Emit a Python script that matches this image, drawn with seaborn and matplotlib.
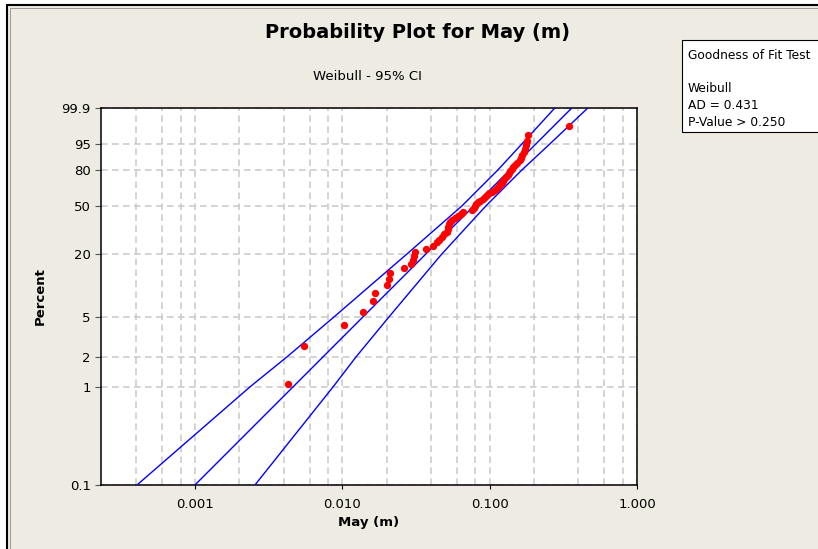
import numpy as np
import pandas as pd
import matplotlib
matplotlib.use("Agg")
import matplotlib.pyplot as plt
from matplotlib.patches import Rectangle
from matplotlib.ticker import FixedLocator, FixedFormatter, NullFormatter
import seaborn as sns

# ---- data -------------------------------------------------------------
# observed May values (m), sorted
may_values = [0.0043, 0.0055, 0.0102, 0.0139, 0.0162, 0.0166, 0.0202, 0.0208,
              0.0211, 0.0263, 0.0291, 0.0300, 0.0306, 0.0310, 0.0370, 0.0413,
              0.0436, 0.0454, 0.0472, 0.0490, 0.0512, 0.0518, 0.0525, 0.0532,
              0.0539, 0.0556, 0.0582, 0.0605, 0.0634, 0.0660, 0.0759, 0.0777,
              0.0790, 0.0808, 0.0830, 0.0861, 0.0898, 0.0923, 0.0954, 0.0991,
              0.1035, 0.1080, 0.1123, 0.1153, 0.1182, 0.1205, 0.1227, 0.1258,
              0.1296, 0.1325, 0.1352, 0.1380, 0.1408, 0.1439, 0.1485, 0.1537,
              0.1596, 0.1634, 0.1670, 0.1702, 0.1734, 0.1767, 0.1806, 0.1831,
              0.348]
# plotting positions (percent) of the sorted values
may_percent = [1.07, 2.60, 4.13, 5.66, 7.19, 8.72, 10.24, 11.77, 13.30, 14.83,
               16.36, 17.89, 19.42, 20.95, 22.48, 24.01, 25.54, 27.06, 28.59,
               30.12, 31.65, 33.18, 34.71, 36.24, 37.77, 39.30, 40.83, 42.35,
               43.88, 45.41, 46.94, 48.47, 50.00, 51.53, 53.06, 54.59, 56.12,
               57.65, 59.17, 60.70, 62.23, 63.76, 65.29, 66.82, 68.35, 69.88,
               71.41, 72.94, 74.46, 75.99, 77.52, 79.05, 80.58, 82.11, 83.64,
               85.17, 86.70, 88.23, 89.76, 91.28, 92.81, 94.34, 95.87, 97.40,
               98.93]

# fitted Weibull line (percent -> May value)
fit_percent = [0.1, 99.9]
fit_values = [0.000999, 0.361]

# 95% confidence bounds
ci_percent = [0.1, 1, 2, 5, 20, 50, 80, 95, 99.9]
ci_left = [0.000404, 0.002373, 0.004215, 0.008754, 0.02725, 0.06468, 0.1134,
           0.1662, 0.2768]
ci_right = [0.002552, 0.008683, 0.01240, 0.02068, 0.04708, 0.09412, 0.1650,
            0.2575, 0.4635]

y_ticks = [0.1, 1, 2, 5, 20, 50, 80, 95, 99.9]
y_tick_labels = ["0.1", "1", "2", "5", "20", "50", "80", "95", "99.9"]
x_ticks = [0.001, 0.01, 0.1, 1.0]
x_tick_labels = ["0.001", "0.010", "0.100", "1.000"]

gof_lines = ["Goodness of Fit Test", "", "Weibull", "AD = 0.431", "P-Value > 0.250"]

# ---- style ------------------------------------------------------------
sns.set_theme(style="white")
plt.rcParams["font.family"] = ["DejaVu Sans"]
plt.rcParams["text.color"] = "black"
plt.rcParams["axes.labelcolor"] = "black"
plt.rcParams["xtick.color"] = "black"
plt.rcParams["ytick.color"] = "black"
BG = "#eeebe2"
W, H = 818, 549

fig = plt.figure(figsize=(W / 100, H / 100), dpi=100)
fig.patch.set_facecolor("white")


def fx(px):
    return px / W


def fy(py):
    return 1 - py / H


# window frame
fig.patches.append(Rectangle((fx(7), fy(560)), fx(900), (560 - 5) / H,
                             transform=fig.transFigure, facecolor=BG,
                             edgecolor="black", linewidth=1.5, zorder=-10))
fig.patches.append(Rectangle((fx(9.5), fy(560)), fx(900), (560 - 7.5) / H,
                             transform=fig.transFigure, facecolor="none",
                             edgecolor="#9a9a9a", linewidth=0.7, zorder=-9))

ax = fig.add_axes([fx(101), fy(485), fx(637) - fx(101), (485 - 108) / H])
ax.set_zorder(1)
ax.set_facecolor("white")

pts = pd.DataFrame({"May": may_values, "Percent": may_percent})
fit = pd.DataFrame({"May": fit_values, "Percent": fit_percent})
ci = pd.DataFrame({"left": ci_left, "right": ci_right, "Percent": ci_percent})

for col in ["left", "right"]:
    sns.lineplot(x=ci[col], y=ci["Percent"], ax=ax, sort=False, estimator=None,
                 color="#0000ff", linewidth=1.0, zorder=3)
sns.lineplot(data=fit, x="May", y="Percent", ax=ax, sort=False, estimator=None,
             color="#0000ff", linewidth=1.0, zorder=3)
sns.scatterplot(data=pts, x="May", y="Percent", ax=ax, color="#ff0000",
                s=28, linewidth=0, zorder=4)


def weib_fwd(p):
    p = np.clip(np.asarray(p, dtype=float), 1e-9, 100 - 1e-9)
    return np.log(-np.log(1 - p / 100.0))


def weib_inv(w):
    return 100.0 * (1 - np.exp(-np.exp(np.asarray(w, dtype=float))))


ax.set_xscale("log")
ax.set_yscale("function", functions=(weib_fwd, weib_inv))
ax.set_xlim(10 ** -3.638, 1.0)
ax.set_ylim(0.1, 99.9)

ax.yaxis.set_major_locator(FixedLocator(y_ticks))
ax.yaxis.set_major_formatter(FixedFormatter(y_tick_labels))
ax.yaxis.set_minor_locator(FixedLocator([]))
ax.xaxis.set_major_locator(FixedLocator(x_ticks))
ax.xaxis.set_major_formatter(FixedFormatter(x_tick_labels))
minor_x = [m * 10.0 ** e for e in range(-4, 0) for m in (2, 4, 6, 8)]
ax.xaxis.set_minor_locator(FixedLocator(minor_x))
ax.xaxis.set_minor_formatter(NullFormatter())

grid_kw = dict(color="#c8c8c8", linewidth=1.1, linestyle=(0, (4.3, 2.9)))
ax.grid(True, which="major", axis="both", **grid_kw)
ax.grid(True, which="minor", axis="x", **grid_kw)
ax.set_axisbelow(True)

for s in ax.spines.values():
    s.set_color("black")
    s.set_linewidth(1.1)

ax.tick_params(axis="y", which="major", left=True, length=4.3, width=0.8,
               color="#555555", labelsize=9.5, pad=3)
ax.tick_params(axis="x", which="major", bottom=True, length=3, width=0.8,
               color="black", labelsize=9.5, pad=6)
ax.tick_params(axis="x", which="minor", length=0)

ax.set_xlabel("May (m)", fontsize=9.5, fontweight="bold", labelpad=4)
ax.set_ylabel("Percent", fontsize=9.5, fontweight="bold", labelpad=11)

fig.text(fx(417), fy(38), "Probability Plot for May (m)", ha="center",
         va="baseline", fontsize=14, fontweight="bold")
fig.text(fx(367), fy(76), "Weibull - 95% CI", ha="center", va="center",
         fontsize=9.5)

# goodness-of-fit box
fig.patches.append(Rectangle((fx(682), fy(132)), fx(200), (132 - 40) / H,
                             transform=fig.transFigure, facecolor="white",
                             edgecolor="black", linewidth=0.8, zorder=2))
for i, line in enumerate(gof_lines):
    fig.text(fx(688), fy(59 + i * 16.7), line, ha="left", va="baseline",
             fontsize=8.8, zorder=3)

fig.savefig("out.png", dpi=100, facecolor=fig.get_facecolor())
